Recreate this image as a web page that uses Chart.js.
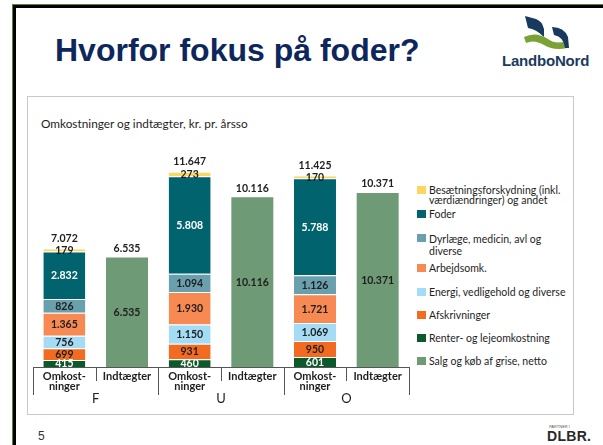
<!DOCTYPE html>
<html>
<head>
<meta charset="utf-8">
<script src="https://cdn.jsdelivr.net/npm/chart.js@4.4.1/dist/chart.umd.min.js"></script>
<style>
  html, body { margin:0; padding:0; background:#fff; }
  #page { position:relative; width:603px; height:445px; overflow:hidden; background:#fff; font-family:Lato, "Liberation Sans", sans-serif; }
  #frameG { position:absolute; left:12px; top:4px; width:600px; height:460px; border:1px solid #5a8a1a; box-sizing:border-box; }
  #frameB { position:absolute; left:13px; top:5px; width:598px; height:460px; border:3px solid #000; box-sizing:border-box; }
  #title { position:absolute; left:55px; top:32px; font-family:"Liberation Sans", Arial, sans-serif; font-weight:bold; font-size:32px; color:#0d275c; white-space:nowrap; }
  #logoText { position:absolute; left:502px; top:52px; font-family:"Liberation Sans", Arial, sans-serif; font-weight:bold; font-size:15px; color:#1b3b5e; letter-spacing:-0.2px; }
  #logoIcon { position:absolute; left:522px; top:15px; }
  #box { position:absolute; left:27px; top:96px; width:547px; height:319px; border:1px solid #c9c9c9; box-sizing:border-box; }
  #sub { position:absolute; left:41px; top:116px; font-size:11.8px; color:#1e1e1e; white-space:nowrap; }
  #legend { position:absolute; left:417px; top:0; font-size:10.5px; color:#1e1e1e; }
  .li { position:absolute; left:0; white-space:nowrap; }
  .sw { position:absolute; left:0; width:9px; height:8px; }
  .lt { position:absolute; left:12px; line-height:10.5px; }
  #pnum { position:absolute; left:38px; top:429px; font-size:12px; color:#333; font-family:"Liberation Sans", Arial, sans-serif; }
  #dlbr { position:absolute; left:547px; top:428px; font-family:"Liberation Sans", Arial, sans-serif; font-weight:bold; font-size:14px; color:#2a2a2a; letter-spacing:0.3px; }
  #dlbrTop { position:absolute; left:549px; top:424px; font-size:4px; color:#555; font-family:"Liberation Sans", sans-serif; }
  canvas { position:absolute; left:0; top:0; z-index:2; }
</style>
</head>
<body>
<div id="page">
  <div id="frameG"></div>
  <div id="frameB"></div>
  <div id="title">Hvorfor fokus på foder?</div>
  <svg id="logoIcon" width="50" height="36" viewBox="0 0 50 36">
    <path d="M3 1 L14 4 Q20 6 22 14 L22 22 Q14 14 6 13 Z" fill="#173a5e"/>
    <path d="M2 22 Q14 16 26 24 Q34 30 44 26 L45 33 Q32 36 22 30 Q12 24 4 28 Z" fill="#7aa234"/>
    <path d="M30 12 Q42 12 46 22 L47 33 L43 33 Q42 22 32 20 Z" fill="#173a5e"/>
  </svg>
  <div id="logoText">LandboNord</div>
  <div id="box"></div>
  <div id="sub">Omkostninger og indtægter, kr. pr. årsso</div>
  <div id="legend"></div>
  <div id="pnum">5</div>
  <div id="dlbrTop">PARTNER I</div>
  <div id="dlbr">DLBR.</div>
  <canvas id="c" width="603" height="445"></canvas>
</div>
<script>
// ---- data ----
const groups = ['F', 'U', 'O'];
const barTypes = [['Omkost-', 'ninger'], 'Indtægter'];
const renter     = [415, 460, 601];
const afskriv    = [699, 931, 950];
const energi     = [756, 1150, 1069];
const arbejd     = [1365, 1930, 1721];
const dyrlaege   = [826, 1094, 1126];
const foder      = [2832, 5808, 5788];
const besaetning = [179, 273, 170];
const salg       = [6535, 10116, 10371];
const totals     = [7072, 11647, 11425];

const seriesNames = [
  ['Renter- og lejeomkostning'],
  ['Afskrivninger'],
  ['Energi, vedligehold og diverse'],
  ['Arbejdsomk.'],
  ['Dyrlæge, medicin, avl og', 'diverse'],
  ['Foder'],
  ['Besætningsforskydning (inkl.', 'værdiændringer) og andet'],
  ['Salg og køb af grise, netto']
];
const seriesColors = ['#0b5a2b', '#f26b21', '#a4dcf6', '#f78a52', '#6aa0ad', '#00636d', '#fdd65e', '#6f9a76'];
const labelColors  = ['#ffffff', '#1e1e1e', '#1e1e1e', '#1e1e1e', '#1e1e1e', '#ffffff', '#1e1e1e', '#1e1e1e'];

// ---- build ----
const labels = [];
groups.forEach(() => barTypes.forEach(t => labels.push(t)));
const costSeries = [renter, afskriv, energi, arbejd, dyrlaege, foder, besaetning];
function costData(arr) { const d = []; arr.forEach(v => { d.push(v); d.push(null); }); return d; }
function incData(arr) { const d = []; arr.forEach(v => { d.push(null); d.push(v); }); return d; }

const datasets = costSeries.map((s, i) => ({
  label: seriesNames[i].join(' '),
  data: costData(s),
  backgroundColor: seriesColors[i],
  borderColor: '#ffffff',
  borderWidth: {top: 1, bottom: 0, left: 0, right: 0},
  borderSkipped: false,
  stack: 's'
}));
datasets.push({
  label: seriesNames[7].join(' '),
  data: incData(salg),
  backgroundColor: seriesColors[7],
  borderColor: '#ffffff',
  borderWidth: 0,
  stack: 's'
});

function fmt(v) { return v.toString().replace(/\B(?=(\d{3})+(?!\d))/g, '.'); }

const labelPlugin = {
  id: 'labels',
  afterDatasetsDraw(chart) {
    const ctx = chart.ctx;
    ctx.save();
    ctx.font = 'bold 10.5px Lato';
    ctx.textAlign = 'center';
    ctx.textBaseline = 'middle';
    chart.data.datasets.forEach((ds, di) => {
      const meta = chart.getDatasetMeta(di);
      meta.data.forEach((el, i) => {
        const v = ds.data[i];
        if (v == null) return;
        ctx.fillStyle = labelColors[di];
        ctx.fillText(fmt(v), el.x, (el.y + el.base) / 2 + 0.5);
      });
    });
    // totals
    ctx.fillStyle = '#1e1e1e';
    const topMeta = chart.getDatasetMeta(6);
    totals.forEach((t, g) => {
      const el = topMeta.data[g * 2];
      ctx.fillText(fmt(t), el.x, el.y - 10);
    });
    const incMeta = chart.getDatasetMeta(7);
    salg.forEach((t, g) => {
      const el = incMeta.data[g * 2 + 1];
      ctx.fillText(fmt(t), el.x, el.y - 9);
    });
    ctx.restore();
  }
};

const axisPlugin = {
  id: 'groupAxis',
  afterDraw(chart) {
    const xs = chart.scales.x;
    const ctx = chart.ctx;
    const y0 = chart.chartArea.bottom;
    const half = (xs.getPixelForValue(1) - xs.getPixelForValue(0)) / 2;
    ctx.save();
    ctx.strokeStyle = '#555';
    ctx.lineWidth = 1;
    for (let i = 0; i <= labels.length; i++) {
      const x = Math.round(xs.getPixelForValue(Math.min(i, labels.length - 1)) + (i === labels.length ? half : -half)) + 0.5;
      const len = (i % 2 === 0) ? 28 : 14;
      ctx.beginPath();
      ctx.moveTo(x, y0);
      ctx.lineTo(x, y0 + len);
      ctx.stroke();
    }
    ctx.fillStyle = '#1e1e1e';
    ctx.font = '13px Lato';
    ctx.textAlign = 'center';
    ctx.textBaseline = 'middle';
    groups.forEach((g, gi) => {
      const x = (xs.getPixelForValue(gi * 2) + xs.getPixelForValue(gi * 2 + 1)) / 2;
      ctx.fillText(g, x, y0 + 32);
    });
    ctx.restore();
  }
};

new Chart(document.getElementById('c'), {
  type: 'bar',
  data: { labels, datasets },
  options: {
    responsive: false,
    animation: false,
    devicePixelRatio: 1,
    layout: { padding: { left: 33, right: 194, top: 149, bottom: 0 } },
    plugins: { legend: { display: false }, tooltip: { enabled: false } },
    datasets: { bar: { barPercentage: 0.67, categoryPercentage: 1.0 } },
    scales: {
      x: {
        stacked: true,
        grid: { display: false, drawTicks: false },
        border: { display: true, color: '#555', width: 1 },
        ticks: { color: '#1e1e1e', font: { family: 'Lato', size: 11, weight: 'bold', lineHeight: 0.95 }, padding: 4, maxRotation: 0, autoSkip: false },
        afterFit(scale) { scale.height = 78; }
      },
      y: { stacked: true, display: false, min: 0, max: 13000 }
    }
  },
  plugins: [labelPlugin, axisPlugin]
});

// ---- legend (HTML, from series arrays, reversed order) ----
const legendY = [190, 214, 238, 268, 292, 315, 338, 361];
const order = [6, 5, 4, 3, 2, 1, 0, 7];
const leg = document.getElementById('legend');
order.forEach((si, k) => {
  const item = document.createElement('div');
  item.className = 'li';
  item.style.top = (legendY[k] - 5) + 'px';
  const sw = document.createElement('div');
  sw.className = 'sw';
  sw.style.background = seriesColors[si];
  sw.style.top = '1px';
  const tx = document.createElement('div');
  tx.className = 'lt';
  tx.style.top = '-0.5px';
  if (si === 4) tx.style.lineHeight = '12px';
  tx.innerHTML = seriesNames[si].join('<br>');
  item.appendChild(sw); item.appendChild(tx);
  leg.appendChild(item);
});
</script>
</body>
</html>
